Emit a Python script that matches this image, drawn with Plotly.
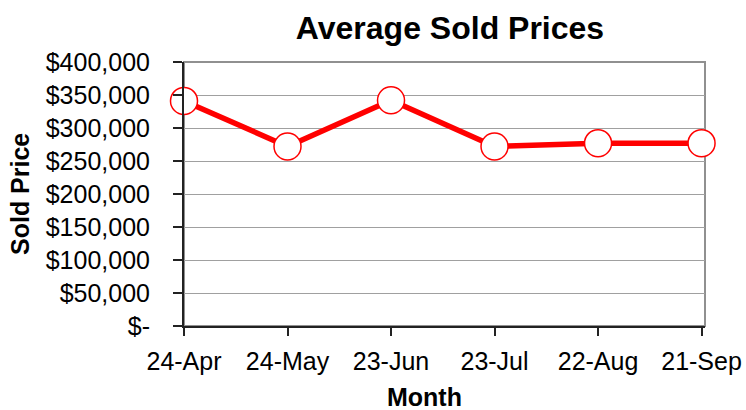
import plotly.graph_objects as go

# Data
dates = ["2007-04-24", "2007-05-24", "2007-06-23", "2007-07-23", "2007-08-22", "2007-09-21"]
prices = [341000, 272000, 342000, 272000, 277000, 277000]
y_tick_vals = [0, 50000, 100000, 150000, 200000, 250000, 300000, 350000, 400000]
y_tick_text = ["$-", "$50,000", "$100,000", "$150,000", "$200,000", "$250,000",
               "$300,000", "$350,000", "$400,000"]

W, H = 746, 410
L, R, T, B = 184, 41, 62, 84
FONT = "Liberation Sans, Arial, sans-serif"

fig = go.Figure()
fig.add_trace(go.Scatter(
    x=dates, y=prices, mode="lines+markers",
    line=dict(color="#FF0000", width=5.5),
    marker=dict(symbol="circle", size=27, color="white",
                line=dict(color="#FF0000", width=1.5)),
    cliponaxis=False, showlegend=False, hoverinfo="skip",
))

fig.update_layout(
    width=W, height=H,
    margin=dict(l=L, r=R, t=T, b=B, pad=0, autoexpand=False),
    paper_bgcolor="white", plot_bgcolor="white",
    font=dict(family=FONT, color="black", size=25),
    title=dict(text="<b>Average Sold Prices</b>", font=dict(size=32, family=FONT, color="black"),
               x=450 / W, xref="container", xanchor="center",
               y=1 - 28 / H, yref="container", yanchor="middle", automargin=False),
    xaxis=dict(
        type="date", automargin=False,
        range=["2007-04-24", "2007-09-22"],
        tickvals=dates, tickformat="%-d-%b",
        showgrid=False, zeroline=False,
        showline=True, linecolor="#222", linewidth=2,
        ticks="outside", ticklen=8, tickwidth=2, tickcolor="#222",
        tickfont=dict(size=25, family=FONT, color="black"),
        ticklabelstandoff=4,
    ),
    yaxis=dict(
        range=[0, 400000], automargin=False,
        tickvals=y_tick_vals, ticktext=y_tick_text,
        showgrid=True, gridcolor="#A0A0A0", gridwidth=1,
        zeroline=False,
        showline=True, linecolor="#222", linewidth=2,
        ticks="outside", ticklen=9, tickwidth=2, tickcolor="#222",
        tickfont=dict(size=25, family=FONT, color="black"),
        ticklabelstandoff=18,
    ),
    shapes=[dict(type="rect", xref="paper", yref="paper", x0=0, x1=1, y0=0, y1=1,
                 line=dict(color="#909090", width=2), layer="below")],
    annotations=[
        dict(text="<b>Sold Price</b>", textangle=-90, xref="paper", yref="paper",
             x=(20 - L) / (W - L - R), y=0.5, xanchor="center", yanchor="middle",
             showarrow=False, font=dict(size=25, family=FONT, color="black")),
        dict(text="<b>Month</b>", xref="paper", yref="paper",
             x=(424 - L) / (W - L - R), y=-(397 - (H - B)) / (H - T - B),
             xanchor="center", yanchor="middle",
             showarrow=False, font=dict(size=25, family=FONT, color="black")),
    ],
)

fig.write_html("out.html", config={"displayModeBar": False, "staticPlot": True},
               post_script="document.body.style.margin='0';document.body.style.padding='0';document.documentElement.style.overflow='hidden';")
